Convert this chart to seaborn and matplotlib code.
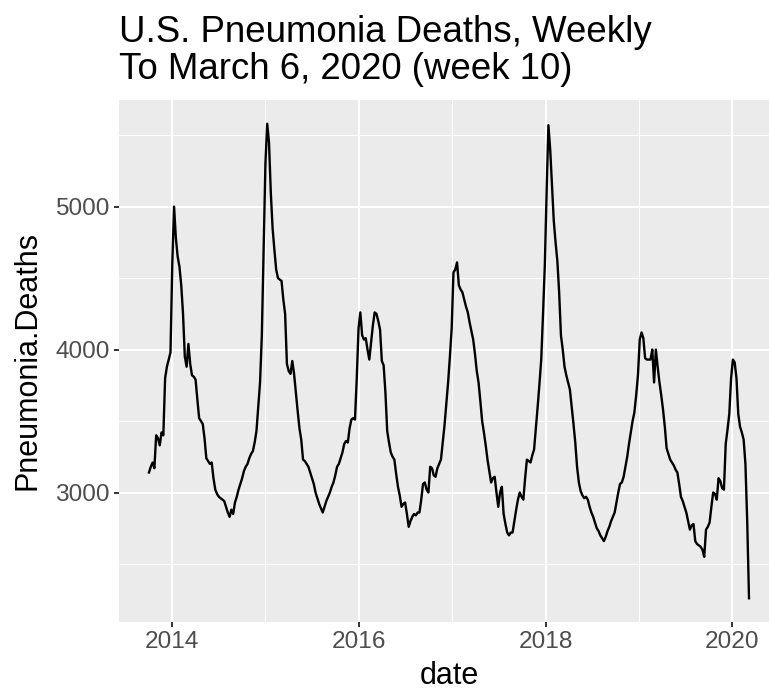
import matplotlib
matplotlib.use("Agg")
import matplotlib.pyplot as plt
import matplotlib.dates as mdates
from matplotlib.ticker import MultipleLocator
import seaborn as sns
import pandas as pd

# weekly pneumonia deaths, one list per flu season
season_2013_14 = [3140, 3180, 3210, 3170, 3400, 3380, 3330, 3420, 3400, 3800,
                  3880, 3930, 3980, 4600, 5000, 4780, 4650, 4580, 4450, 4250,
                  3950, 3880, 4040, 3900, 3820, 3810, 3790, 3650, 3520, 3500,
                  3480, 3380, 3240, 3220, 3200, 3210, 3100, 3020, 2990, 2970,
                  2960, 2950, 2940, 2900, 2860, 2830, 2880, 2850, 2930, 2970,
                  3020, 3060]
season_2014_15 = [3100, 3150, 3180, 3200, 3240, 3270, 3290, 3350, 3430, 3600,
                  3770, 4100, 4700, 5300, 5580, 5450, 5100, 4850, 4700, 4560,
                  4500, 4490, 4480, 4350, 4250, 3900, 3850, 3830, 3920, 3830,
                  3700, 3570, 3450, 3370, 3230, 3220, 3200, 3180, 3140, 3100,
                  3060, 3000, 2960, 2920, 2890, 2860, 2900, 2940, 2970, 3000,
                  3040, 3070]
season_2015_16 = [3120, 3180, 3200, 3240, 3280, 3340, 3360, 3350, 3450, 3510,
                  3520, 3510, 3800, 4150, 4260, 4100, 4070, 4080, 4000, 3930,
                  4050, 4170, 4260, 4250, 4200, 4140, 3920, 3890, 3700, 3430,
                  3350, 3280, 3250, 3230, 3130, 3040, 2980, 2900, 2920, 2930,
                  2850, 2760, 2800, 2830, 2850, 2840, 2860, 2860, 2950, 3060,
                  3070, 3020]
season_2016_17 = [3000, 3180, 3170, 3120, 3110, 3170, 3200, 3230, 3350, 3470,
                  3620, 3770, 3950, 4150, 4540, 4560, 4610, 4450, 4420, 4400,
                  4350, 4300, 4260, 4190, 4130, 4070, 3970, 3850, 3770, 3640,
                  3500, 3420, 3330, 3230, 3150, 3070, 3100, 3110, 3000, 2900,
                  3000, 3040, 2850, 2780, 2720, 2700, 2720, 2720, 2800, 2880,
                  2950, 3000]
season_2017_18 = [2970, 2950, 3100, 3230, 3220, 3210, 3260, 3300, 3450, 3600,
                  3760, 3930, 4250, 4590, 5100, 5570, 5400, 5150, 4900, 4750,
                  4620, 4400, 4100, 4000, 3880, 3820, 3770, 3720, 3600, 3480,
                  3350, 3180, 3070, 3010, 2980, 2960, 2970, 2950, 2900, 2860,
                  2830, 2790, 2750, 2730, 2700, 2680, 2660, 2690, 2730, 2760,
                  2800, 2830]
season_2018_19 = [2860, 2930, 3000, 3060, 3070, 3110, 3180, 3250, 3340, 3420,
                  3500, 3560, 3680, 3820, 4070, 4120, 4080, 3940, 3930, 3930,
                  3930, 4000, 3770, 4000, 3880, 3770, 3680, 3580, 3460, 3310,
                  3270, 3230, 3210, 3190, 3160, 3140, 3060, 2970, 2940, 2900,
                  2860, 2800, 2740, 2770, 2780, 2660, 2640, 2630, 2620, 2600,
                  2550, 2740]
season_2019_20 = [2760, 2790, 2900, 3000, 2990, 2950, 3100, 3080, 3030, 3020,
                  3340, 3440, 3550, 3800, 3930, 3910, 3800, 3550, 3460, 3420,
                  3370, 3200, 2800, 2260]

last_week = "2020-03-06"
title = "U.S. Pneumonia Deaths, Weekly\nTo March 6, 2020 (week 10)"

deaths = (season_2013_14 + season_2014_15 + season_2015_16 + season_2016_17
          + season_2017_18 + season_2018_19 + season_2019_20)
dates = pd.date_range(end=last_week, periods=len(deaths), freq="7D")
df = pd.DataFrame({"date": dates, "Pneumonia.Deaths": deaths})

plt.rcParams["font.family"] = ["Liberation Sans", "DejaVu Sans"]

fig = plt.figure(figsize=(7.69, 6.94), dpi=100)
ax = fig.add_axes([119 / 769, 72 / 694, 660 / 769, 522 / 694])
ax.set_facecolor("#EBEBEB")

sns.lineplot(data=df, x="date", y="Pneumonia.Deaths", color="black",
             linewidth=1.7, ax=ax, zorder=3)

# ggplot-like 5% expansion
span = df["date"].max() - df["date"].min()
ax.set_xlim(df["date"].min() - 0.05 * span, df["date"].max() + 0.05 * span)
vr = df["Pneumonia.Deaths"].max() - df["Pneumonia.Deaths"].min()
ax.set_ylim(df["Pneumonia.Deaths"].min() - 0.05 * vr,
            df["Pneumonia.Deaths"].max() + 0.05 * vr)

ax.xaxis.set_major_locator(mdates.YearLocator(2))
ax.xaxis.set_minor_locator(mdates.YearLocator(1))
ax.xaxis.set_major_formatter(mdates.DateFormatter("%Y"))
ax.yaxis.set_major_locator(MultipleLocator(1000))
ax.yaxis.set_minor_locator(MultipleLocator(500))

ax.grid(which="major", color="white", linewidth=1.5)
ax.grid(which="minor", color="white", linewidth=0.75)
ax.set_axisbelow(True)
for s in ax.spines.values():
    s.set_visible(False)

ax.tick_params(which="major", length=3.6, width=1.4, color="#333333",
               labelsize=17.6, labelcolor="#4D4D4D", pad=3)
ax.tick_params(which="minor", length=0)

ax.set_xlabel("date", fontsize=22, labelpad=6)
ax.set_ylabel("Pneumonia.Deaths", fontsize=22, labelpad=9)

fig.text(119 / 769, 1 - 15 / 694, title, ha="left", va="top",
         fontsize=26.4, linespacing=1.08)

fig.savefig("out.png", dpi=100)
